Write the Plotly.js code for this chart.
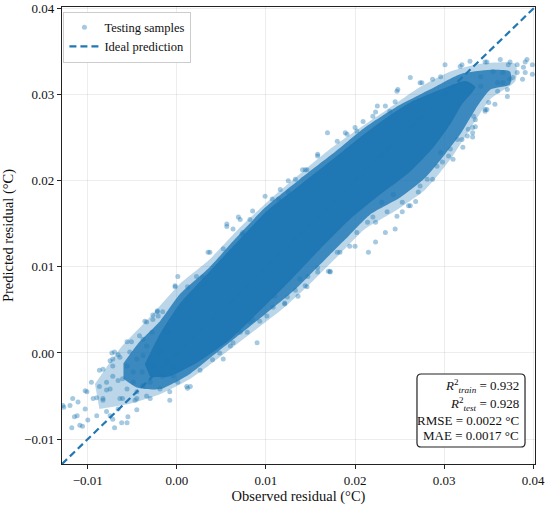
<!DOCTYPE html>
<html>
<head>
<meta charset="utf-8">
<script src="https://cdn.plot.ly/plotly-3.0.1.min.js"></script>
<style>html,body{margin:0;padding:0;background:#fff;}#chart{width:550px;height:508px;}</style>
</head>
<body>
<div id="chart"></div>
<script>
// Scattered (sparse) testing samples: observed vs predicted residual (°C)
const observedSparse = [
-0.0127,-0.0117,-0.0115,-0.0101,-0.0096,-0.0103,-0.0094,-0.0106,-0.0083,-0.0075,-0.0072,-0.0087,-0.0083,-0.0070,-0.0064,-0.0056,-0.0056,-0.0051,-0.0066,-0.0072,-0.0055,-0.0061,-0.0045,-0.0036,-0.0022,-0.0028,-0.0042,-0.0038,-0.0030,-0.0019,-0.0008,0.0001,-0.0016,0.0011,-0.0049,-0.0079,-0.0090,-0.0111,-0.0075,-0.0066,-0.0039,-0.0030,
-0.0128,-0.0120,-0.0118,-0.0112,-0.0109,-0.0103,-0.0100,-0.0087,-0.0079,-0.0075,-0.0070,-0.0073,-0.0066,-0.0062,-0.0056,-0.0083,-0.0090,-0.0045,-0.0047,-0.0027,-0.0008,0.0012,-0.0004,-0.0002,0.0001,0.0090,0.0040,0.0026,0.0063,0.0048,
-0.0002,-0.0022,-0.0021,0.0012,0.0022,0.0037,0.0052,0.0056,0.0071,0.0073,0.0029,-0.0072,-0.0034,
0.0015,0.0052,0.0079,0.0085,
0.0035,0.0056,0.0069,0.0063,0.0085,0.0099,0.0107,0.0125,0.0141,0.0146,0.0158,0.0169,0.0180,0.0191,0.0202,0.0209,0.0220,0.0116,0.0082,0.0074,
0.0236,0.0214,0.0194,0.0183,0.0172,0.0158,0.0146,0.0138,0.0202,0.0220,0.0230,0.0243,
0.0121,0.0124,0.0172,0.0101,0.0082,0.0071,0.0060,0.0108,0.0093,0.0180,
0.0262,0.0273,0.0247,0.0245,0.0225,0.0239,0.0296,0.0301,0.0318,
0.0326,0.0332,0.0348,0.0357,0.0333,0.0321,0.0310,0.0292,0.0296,0.0281,0.0273,0.0268,0.0262,0.0253,0.0247,0.0223,0.0307,0.0315,
0.0348,0.0363,0.0374,0.0382,0.0391,0.0399,0.0388,0.0374,0.0391,0.0360,0.0366,0.0341,0.0355,0.0371,
0.0320,0.0329,0.0346,0.0372,0.0382,0.0393,0.0399,0.0377,0.0366,0.0360,0.0371,0.0350,0.0346,0.0335,0.0327,0.0332,0.0341,0.0389,
-0.0045,-0.0034,-0.0027,-0.0019,-0.0038,-0.0049,-0.0061,-0.0072,-0.0011,-0.0004,-0.0056,-0.0064,-0.0079,-0.0027,-0.0016,-0.0011,-0.0045,-0.0034,-0.0053,-0.0038,
0.0158,0.0144,0.0133,0.0125,0.0114,0.0189,0.0200,0.0223,0.0234,0.0248,0.0275,0.0287,
0.0305,0.0298,0.0320,0.0332,0.0335,0.0346,0.0287,0.0271,0.0260,0.0253,0.0245,0.0234,0.0223,0.0215,0.0200,
0.0110,0.0121,0.0133,0.0144,0.0158,0.0170,0.0147,0.0136
];
const predictedSparse = [
-0.0063,-0.0053,-0.0074,-0.0045,-0.0034,-0.0065,-0.0053,-0.0085,-0.0019,-0.0009,-0.0027,-0.0039,-0.0053,0.0001,-0.0005,-0.0015,0.0013,0.0013,-0.0065,-0.0077,-0.0074,-0.0053,-0.0053,0.0037,0.0048,0.0024,0.0020,-0.0003,-0.0053,-0.0042,-0.0045,-0.0034,-0.0027,-0.0039,-0.0034,-0.0068,-0.0073,-0.0057,-0.0042,-0.0032,-0.0022,-0.0034,
-0.0061,-0.0061,-0.0087,-0.0073,-0.0084,-0.0044,-0.0078,-0.0020,-0.0043,-0.0073,-0.0087,0.0000,-0.0002,-0.0081,-0.0081,-0.0055,-0.0052,-0.0066,-0.0055,0.0044,-0.0055,-0.0041,-0.0017,0.0078,0.0089,0.0012,-0.0008,-0.0020,0.0012,0.0000,
0.0077,0.0049,0.0043,0.0077,0.0089,0.0117,0.0121,0.0150,0.0155,0.0138,0.0088,-0.0007,0.0036,
-0.0039,-0.0007,0.0024,0.0039,
0.0117,0.0147,0.0158,0.0144,0.0165,0.0182,0.0179,0.0200,0.0213,0.0213,0.0231,0.0256,0.0246,0.0254,0.0258,0.0269,0.0275,0.0190,0.0155,0.0140,
0.0164,0.0152,0.0124,0.0117,0.0094,0.0094,0.0077,0.0086,0.0140,0.0158,0.0175,0.0184,
0.0057,0.0065,0.0095,0.0043,0.0036,0.0024,0.0008,0.0053,0.0037,0.0117,
0.0320,0.0314,0.0304,0.0292,0.0287,0.0281,0.0321,0.0335,0.0333,
0.0252,0.0262,0.0283,0.0289,0.0275,0.0239,0.0225,0.0217,0.0233,0.0202,0.0194,0.0176,0.0171,0.0175,0.0159,0.0152,0.0237,0.0248,
0.0338,0.0341,0.0338,0.0335,0.0338,0.0335,0.0318,0.0318,0.0326,0.0314,0.0326,0.0321,0.0327,0.0306,
0.0335,0.0339,0.0338,0.0335,0.0326,0.0341,0.0324,0.0320,0.0314,0.0304,0.0298,0.0291,0.0281,0.0271,0.0260,0.0251,0.0310,0.0332,
-0.0007,0.0008,-0.0015,0.0001,-0.0038,-0.0022,-0.0030,-0.0015,-0.0010,-0.0027,-0.0042,-0.0053,-0.0034,0.0039,0.0048,0.0024,-0.0045,-0.0050,0.0001,0.0016,
0.0229,0.0213,0.0202,0.0187,0.0179,0.0256,0.0262,0.0280,0.0287,0.0306,0.0314,0.0318,
0.0229,0.0222,0.0248,0.0256,0.0263,0.0283,0.0202,0.0187,0.0171,0.0164,0.0144,0.0140,0.0129,0.0117,0.0124,
0.0066,0.0058,0.0073,0.0078,0.0099,0.0095,0.0089,0.0066
];

// Outline of the loosely filled outer zone of the cloud (upper edge then lower edge)
const haloObserved = [-0.0092,-0.0064,-0.0030,0.0003,0.0037,0.0071,0.0105,0.0138,0.0172,0.0206,0.0239,0.0273,0.0307,0.0341,0.0380,
  0.0380,0.0352,0.0329,0.0307,0.0279,0.0245,0.0211,0.0183,0.0149,0.0116,0.0082,0.0048,0.0015,-0.0019,-0.0053,-0.0087];
const haloPredicted = [-0.0036,0.0005,0.0042,0.0080,0.0109,0.0146,0.0179,0.0208,0.0237,0.0262,0.0285,0.0309,0.0327,0.0336,0.0336,
  0.0316,0.0295,0.0260,0.0225,0.0190,0.0165,0.0144,0.0115,0.0080,0.0049,0.0022,-0.0005,-0.0030,-0.0048,-0.0059,-0.0065];

// Outline of the moderately dense part of the cloud
const bandObserved = [-0.0060,-0.0042,-0.0019,0.0003,0.0037,0.0065,0.0099,0.0138,0.0178,0.0211,0.0245,0.0284,0.0318,0.0352,0.0374,
  0.0374,0.0352,0.0335,0.0318,0.0301,0.0279,0.0251,0.0217,0.0189,0.0161,0.0133,0.0099,0.0071,0.0043,0.0015,-0.0019,-0.0045,-0.0060];
const bandPredicted = [-0.0012,0.0013,0.0037,0.0068,0.0100,0.0132,0.0169,0.0202,0.0234,0.0262,0.0285,0.0306,0.0324,0.0329,0.0327,
  0.0312,0.0306,0.0283,0.0254,0.0231,0.0204,0.0181,0.0161,0.0132,0.0103,0.0074,0.0045,0.0022,-0.0001,-0.0024,-0.0042,-0.0040,-0.0030];

// Outline of the saturated core of the cloud
const coreObserved = [-0.0036,-0.0019,0.0003,0.0037,0.0065,0.0101,0.0138,0.0175,0.0206,0.0236,0.0262,0.0296,0.0324,
  0.0335,0.0320,0.0307,0.0288,0.0262,0.0228,0.0194,0.0161,0.0127,0.0093,0.0060,0.0026,-0.0008,-0.0030];
const corePredicted = [-0.0013,0.0022,0.0057,0.0095,0.0126,0.0165,0.0195,0.0225,0.0251,0.0274,0.0291,0.0306,0.0316,
  0.0309,0.0289,0.0266,0.0239,0.0211,0.0184,0.0155,0.0121,0.0084,0.0049,0.0016,-0.0009,-0.0027,-0.0028];

const axisRange = [-0.0129, 0.0402];
const tickValues = [-0.01, 0.00, 0.01, 0.02, 0.03, 0.04];
const statsLines = ['<i>R</i><sup>2</sup><sub><i>train</i></sub> = 0.932',
                    '<i>R</i><sup>2</sup><sub><i>test</i></sub> = 0.928',
                    'RMSE = 0.0022 °C',
                    'MAE = 0.0017 °C'];

const blue = '#1f77b4';
const fontFam = '"Liberation Serif", "DejaVu Serif", serif';

function area(xs, ys, fill) {
  return {x: xs, y: ys, type: 'scatter', mode: 'lines', fill: 'toself', fillcolor: fill,
          line: {width: 0, color: 'rgba(0,0,0,0)', shape: 'spline', smoothing: 0.6},
          showlegend: false, hoverinfo: 'skip'};
}

const traces = [
  area(haloObserved, haloPredicted, 'rgba(31,119,180,0.3)'),
  area(bandObserved, bandPredicted, 'rgba(31,119,180,0.82)'),
  area(coreObserved, corePredicted, 'rgba(31,119,180,1)'),
  {x: observedSparse, y: predictedSparse, type: 'scatter', mode: 'markers', name: 'Testing samples',
   marker: {size: 5, color: 'rgba(31,119,180,0.4)', line: {width: 0}}},
  {x: axisRange, y: axisRange, type: 'scatter', mode: 'lines', name: 'Ideal prediction',
   line: {color: blue, width: 2.2, dash: '7px,4px'}}
];

const axisCommon = {
  range: axisRange, tickvals: tickValues, tickformat: '.2f',
  showline: true, mirror: true, linecolor: '#222', linewidth: 1.2,
  ticks: 'outside', ticklen: 4, tickwidth: 1, tickcolor: '#222',
  showgrid: true, gridcolor: 'rgba(0,0,0,0.07)', gridwidth: 1,
  zeroline: false, tickfont: {family: fontFam, size: 13, color: '#111'}
};

// stats box geometry (paper units)
const bx0 = 0.7505, bx1 = 0.9789, by0 = 0.0372, by1 = 0.1969, rx = 0.009, ry = 0.009;
const boxPath = `M ${bx0+rx},${by0} L ${bx1-rx},${by0} Q ${bx1},${by0} ${bx1},${by0+ry} L ${bx1},${by1-ry} Q ${bx1},${by1} ${bx1-rx},${by1} L ${bx0+rx},${by1} Q ${bx0},${by1} ${bx0},${by1-ry} L ${bx0},${by0+ry} Q ${bx0},${by0} ${bx0+rx},${by0} Z`;
const lineYs = [0.1707, 0.1313, 0.0941, 0.0613];

const layout = {
  width: 550, height: 508,
  margin: {l: 62, r: 15, t: 7, b: 44},
  paper_bgcolor: '#fff', plot_bgcolor: '#fff',
  font: {family: fontFam, color: '#111'},
  xaxis: Object.assign({}, axisCommon, {title: {text: 'Observed residual (°C)', font: {family: fontFam, size: 14.5}, standoff: 4}}),
  yaxis: Object.assign({}, axisCommon, {title: {text: 'Predicted residual (°C)', font: {family: fontFam, size: 14.5}, standoff: 8}}),
  showlegend: true,
  legend: {x: 0.003, y: 0.99, xanchor: 'left', yanchor: 'top', bgcolor: 'rgba(255,255,255,0.9)',
           bordercolor: '#ccc', borderwidth: 1, font: {family: fontFam, size: 12.5}, tracegroupgap: 0, itemwidth: 30},
  shapes: [{type: 'path', xref: 'paper', yref: 'paper', path: boxPath,
            fillcolor: '#fff', line: {color: '#222', width: 1.2}, layer: 'above'}],
  annotations: statsLines.map((t, i) => ({
    xref: 'paper', yref: 'paper', x: 0.970, y: lineYs[i], xanchor: 'right', yanchor: 'middle',
    text: t, align: 'right', showarrow: false,
    font: {family: fontFam, size: 13, color: '#111'}
  }))
};

Plotly.newPlot('chart', traces, layout, {displayModeBar: false, staticPlot: true});
</script>
</body>
</html>
